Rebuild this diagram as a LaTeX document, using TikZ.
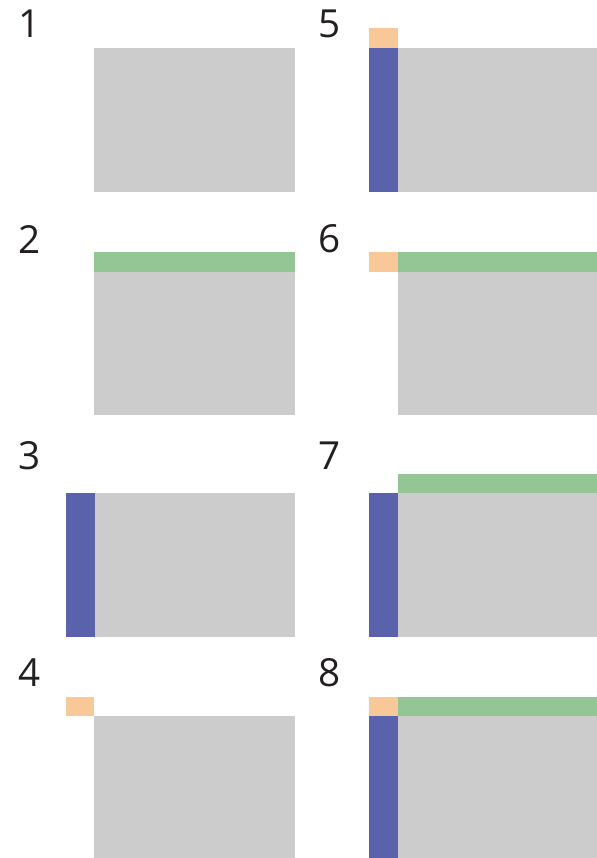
\documentclass[tikz,border=0pt]{standalone}
\usepackage{fontspec}
\setmainfont{Open Sans}
\definecolor{panelgray}{HTML}{CCCCCC}
\definecolor{bargreen}{HTML}{93C595}
\definecolor{barblue}{HTML}{5B62AC}
\definecolor{cornerorange}{HTML}{F8C898}
\definecolor{numblack}{HTML}{231F20}

\begin{document}
\begin{tikzpicture}[x=0.75pt,y=-0.75pt,
  base/.style={fill=panelgray},
  topbar/.style={fill=bargreen},
  sidebar/.style={fill=barblue},
  corner/.style={fill=cornerorange},
  num/.style={inner sep=0pt,font=\fontsize{29}{29}\selectfont,text=numblack}]
\useasboundingbox (0,0) rectangle (597,858);
% step numbers
\foreach \n/\x/\y in {1/29.5/23.5,2/29.5/239,3/29.5/456,4/29.5/672.5,
                      5/330/23.5,6/330/239,7/330/456,8/330/672.5}
  \node[num] (step\n) at (\x,\y) {\n};
% 1
\fill[base] (94.3,47.7) rectangle (295,192);
% 2
\fill[topbar] (94.3,251.7) rectangle (295,271.7);
\fill[base] (94.3,271.7) rectangle (295,415);
% 3
\fill[sidebar] (65.7,493.3) rectangle (94.5,637);
\fill[base] (94.5,493.3) rectangle (295,637);
% 4
\fill[corner] (65.7,697.3) rectangle (94.3,716);
\fill[base] (94.3,716) rectangle (295,858);
% 5
\fill[corner] (369.3,28.3) rectangle (398.3,47.7);
\fill[sidebar] (369.3,47.7) rectangle (398.3,192);
\fill[base] (398.3,47.7) rectangle (597,192);
% 6
\fill[corner] (369.3,251.7) rectangle (398.3,271.7);
\fill[topbar] (398.3,251.7) rectangle (597,271.7);
\fill[base] (398.3,271.7) rectangle (597,415);
% 7
\fill[topbar] (398.3,474.3) rectangle (597,493.3);
\fill[sidebar] (369.3,493.3) rectangle (398.3,637);
\fill[base] (398.3,493.3) rectangle (597,637);
% 8
\fill[corner] (369.3,697.3) rectangle (398.3,716);
\fill[topbar] (398.3,697.3) rectangle (597,716);
\fill[sidebar] (369.3,716) rectangle (398.3,858);
\fill[base] (398.3,716) rectangle (597,858);
\end{tikzpicture}
\end{document}
